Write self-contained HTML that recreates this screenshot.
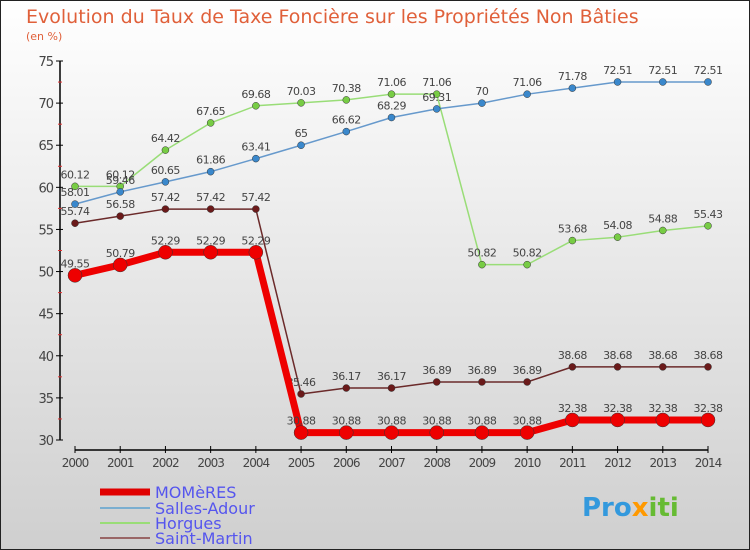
<!DOCTYPE html>
<html><head><meta charset="utf-8"><style>
html,body{margin:0;padding:0}
svg{display:block;font-family:"DejaVu Sans","Liberation Sans",sans-serif}
</style></head><body>
<svg id="c" width="750" height="550" viewBox="0 0 750 550" xmlns="http://www.w3.org/2000/svg">
<defs><linearGradient id="bg" x1="0" y1="0" x2="0" y2="1"><stop offset="0" stop-color="#ffffff"/><stop offset="1" stop-color="#cfcfcf"/></linearGradient></defs>
<rect x="0.5" y="0.5" width="749" height="549" fill="url(#bg)" stroke="#222"/>
<text x="26" y="23" font-size="19" fill="#e0603a">Evolution du Taux de Taxe Foncière sur les Propriétés Non Bâties</text>
<text x="26" y="40" font-size="11" fill="#e0603a">(en %)</text>
<g id="axes"></g><g id="series"></g>
<g>
<line x1="100" y1="492" x2="150" y2="492" stroke="#e00000" stroke-width="7"/>
<text x="155" y="498" font-size="16" fill="#5555ee">MOMèRES</text>
<line x1="100" y1="508" x2="150" y2="508" stroke="#7aaed0" stroke-width="2"/>
<text x="155" y="514" font-size="16" fill="#5555ee">Salles-Adour</text>
<line x1="100" y1="523" x2="150" y2="523" stroke="#99dd77" stroke-width="2"/>
<text x="155" y="529" font-size="16" fill="#5555ee">Horgues</text>
<line x1="100" y1="538" x2="150" y2="538" stroke="#996666" stroke-width="2"/>
<text x="155" y="544" font-size="16" fill="#5555ee">Saint-Martin</text>
</g>
<text x="582" y="516" font-size="26" font-weight="bold" fill="#3399dd">Pro<tspan fill="#ff9900">x</tspan><tspan fill="#66bb33">iti</tspan></text>
</svg>
<script>
const years=[2000,2001,2002,2003,2004,2005,2006,2007,2008,2009,2010,2011,2012,2013,2014];
const yTicks=[30,35,40,45,50,55,60,65,70,75];
const momeres=[49.55,50.79,52.29,52.29,52.29,30.88,30.88,30.88,30.88,30.88,30.88,32.38,32.38,32.38,32.38];
const salles=[58.01,59.46,60.65,61.86,63.41,65,66.62,68.29,69.31,70,71.06,71.78,72.51,72.51,72.51];
const horgues=[60.12,60.12,64.42,67.65,69.68,70.03,70.38,71.06,71.06,50.82,50.82,53.68,54.08,54.88,55.43];
const stmartin=[55.74,56.58,57.42,57.42,57.42,35.46,36.17,36.17,36.89,36.89,36.89,38.68,38.68,38.68,38.68];
const NS="http://www.w3.org/2000/svg";
const X=i=>75+i*(708-75)/(years.length-1);
const Y=v=>440-(v-30)*(440-61)/45;
function mk(tag,attrs,parent){const e=document.createElementNS(NS,tag);for(const k in attrs)e.setAttribute(k,attrs[k]);parent.appendChild(e);return e;}
const ax=document.getElementById('axes');
let a=mk('line',{x1:60,y1:61,x2:60,y2:440,stroke:'#000','stroke-width':1.5},ax);


a=mk('line',{x1:75,y1:450,x2:708,y2:450,stroke:'#000','stroke-width':1.5},ax);


yTicks.forEach((t,i)=>{
 const y=Y(t);
 let l=mk('line',{x1:56,y1:y,x2:63,y2:y,stroke:'#000'},ax);
 
 
 let tx=mk('text',{x:53,y:y+5,'font-size':13,'text-anchor':'end',fill:'#444','letter-spacing':'-1'},ax);
 tx.textContent=t;
 
 
 if(i<yTicks.length-1){let m=mk('line',{x1:58,y1:Y(t+2.5),x2:62,y2:Y(t+2.5),stroke:'#e03030'},ax);
 
 }
});
years.forEach((yr,i)=>{
 const x=X(i);
 let l=mk('line',{x1:x,y1:446,x2:x,y2:453,stroke:'#000'},ax);
 
 
 let tx=mk('text',{x:x,y:467,'font-size':12,'text-anchor':'middle',fill:'#444','letter-spacing':'-1'},ax);
 tx.textContent=yr;
 
 
});
const sg=document.getElementById('series');
function draw(vals,name,color,w,r,fill){
 const g=mk('g',{},sg);
 
 
 const p=mk('polyline',{points:vals.map((v,i)=>X(i)+','+Y(v)).join(' '),fill:'none',stroke:color,'stroke-width':w,'stroke-linejoin':'round'},g);
 
 
 vals.forEach((v,i)=>{
  const c=mk('circle',{cx:X(i),cy:Y(v),r:r,fill:fill,stroke:'#333','stroke-width':0.5},g);
  
  
  const t=mk('text',{x:X(i),y:Y(v)-8,'font-size':11,'text-anchor':'middle',fill:'#444','letter-spacing':'-0.5'},g);
  t.textContent=v;
  
  
 });
}
draw(stmartin,'saint-martin','#6b2a2a',1.5,3.5,'#6b1a1a');
draw(horgues,'horgues','#99dd77',1.5,3.5,'#77cc44');
draw(salles,'salles-adour','#6699cc',1.5,3.5,'#3a88cc');
draw(momeres,'momeres','#ee0000',7,7,'#ee0000');
</script>
</body></html>
